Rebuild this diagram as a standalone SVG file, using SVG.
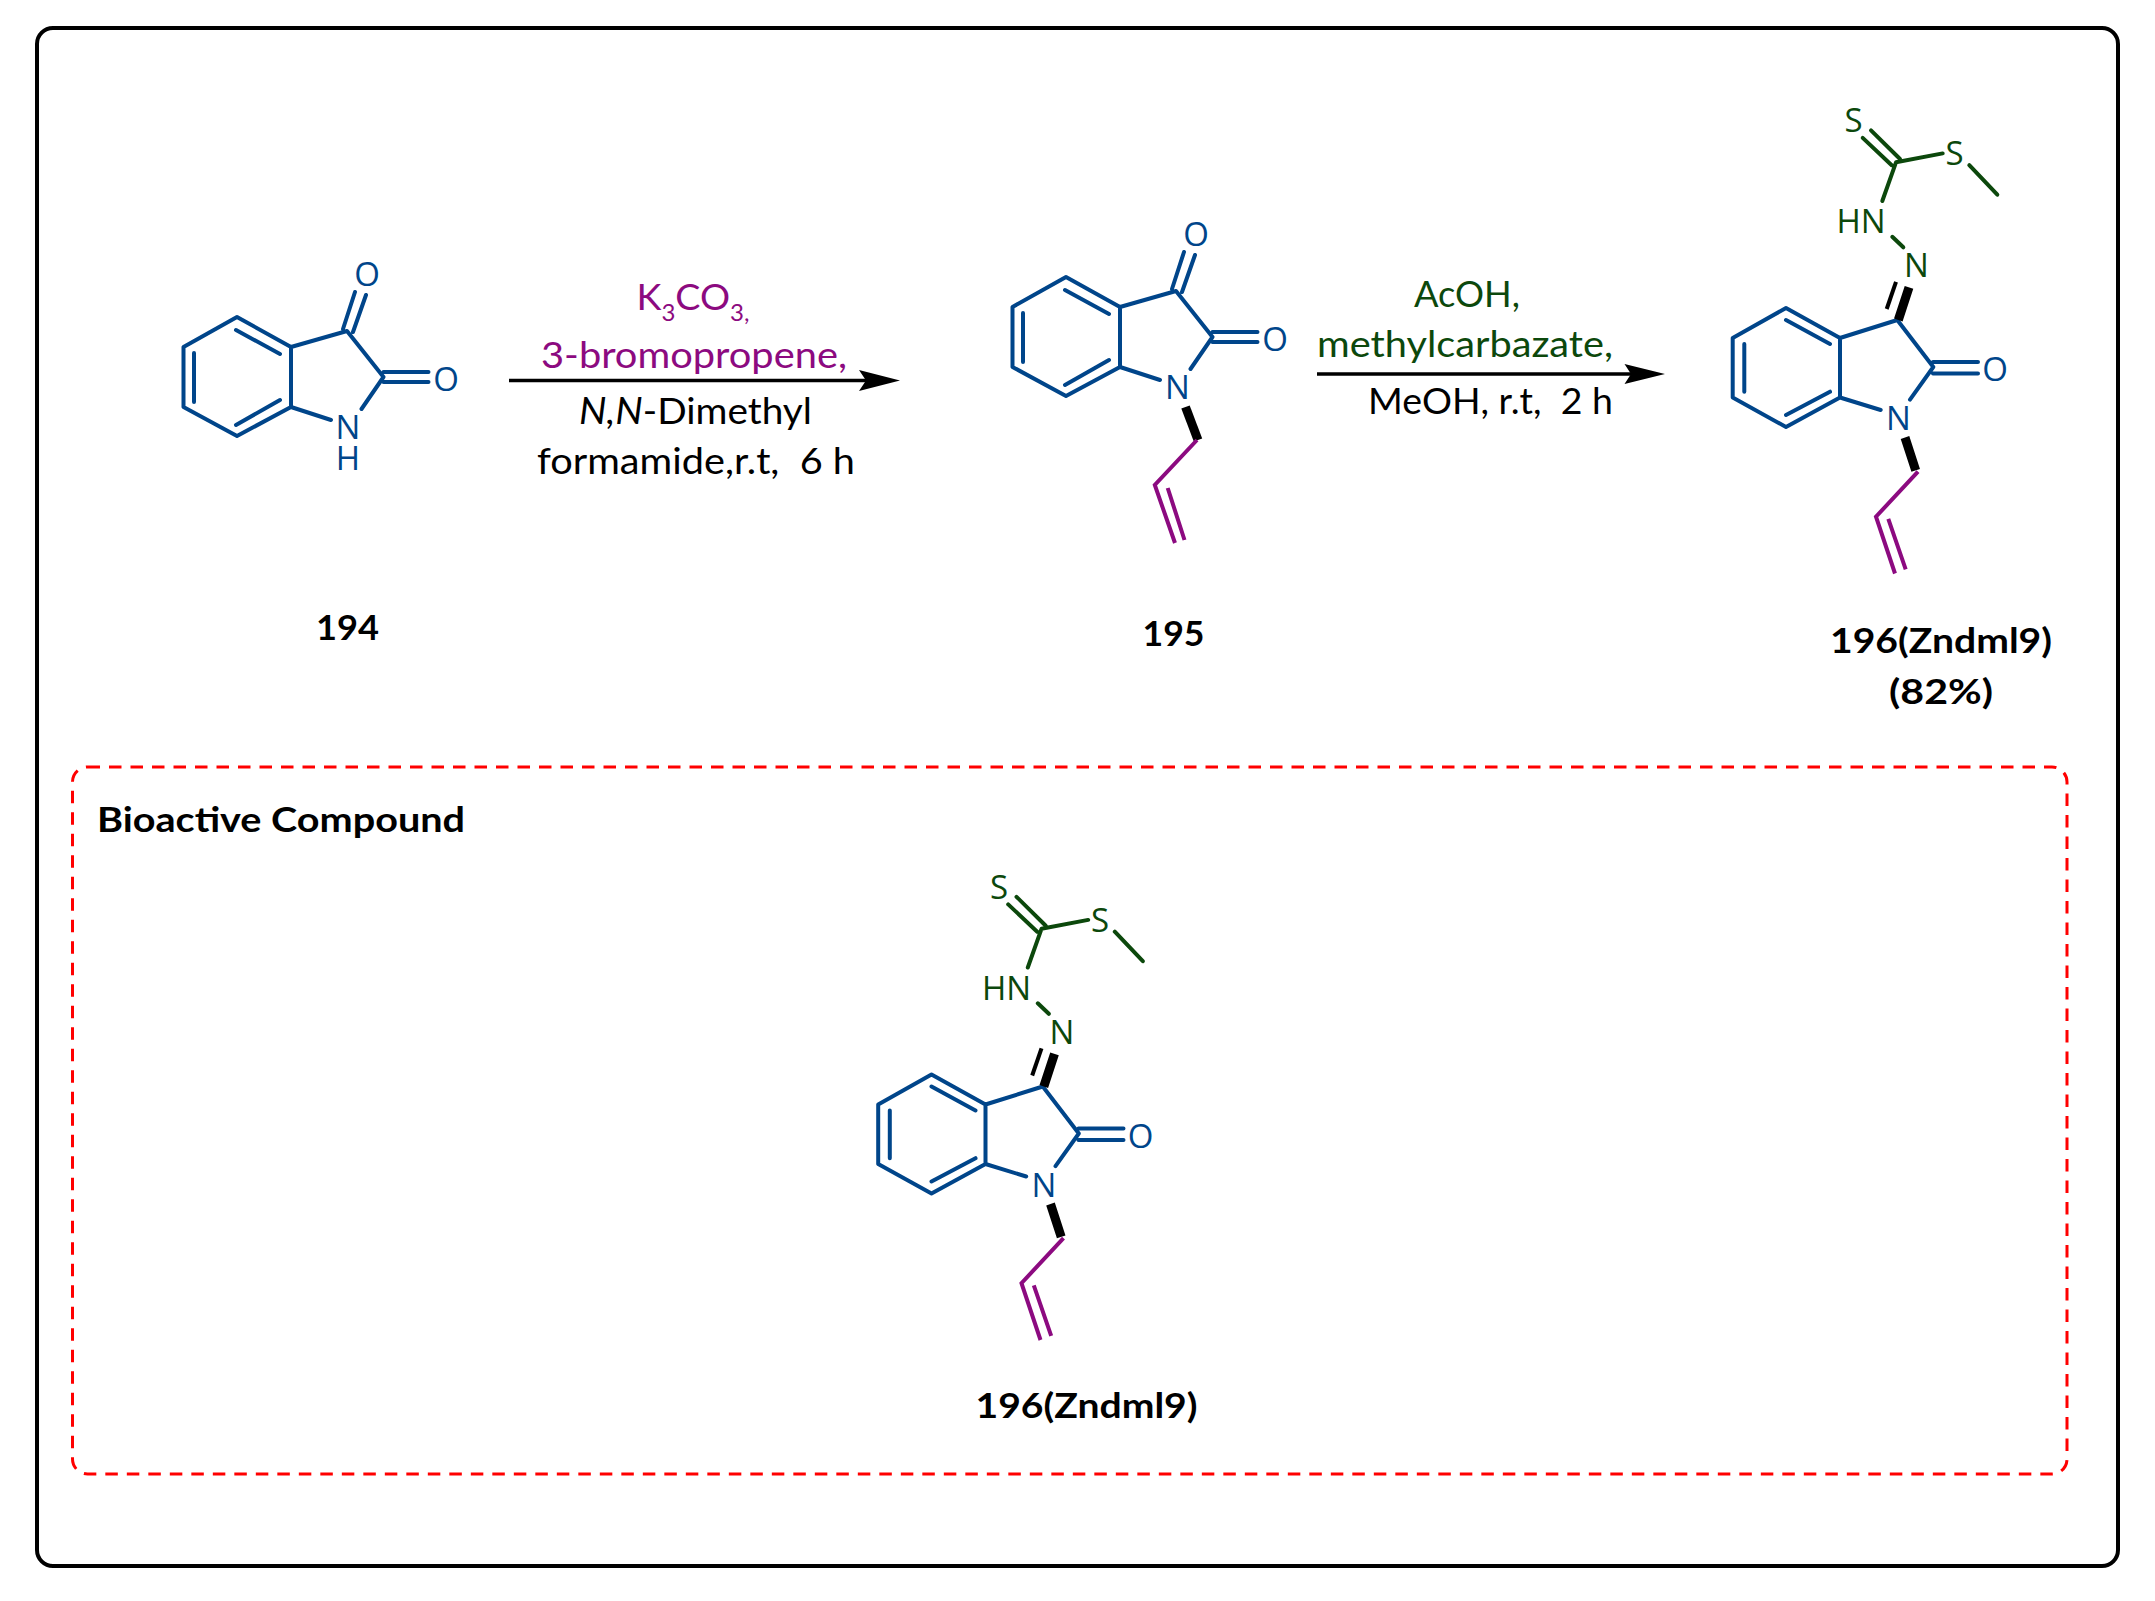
<svg xmlns="http://www.w3.org/2000/svg" width="2155" height="1601" viewBox="0 0 2155 1601">
<style>
.b{fill:none;stroke:#00458a;stroke-width:4;stroke-linecap:round;stroke-linejoin:round}
.p{fill:none;stroke:#8c0a80;stroke-width:4;stroke-linecap:butt;stroke-linejoin:miter}
.g{fill:none;stroke:#0c480c;stroke-width:4;stroke-linecap:round;stroke-linejoin:round}
.w{fill:none;stroke:#000;stroke-width:9}
.k{fill:none;stroke:#000;stroke-width:4}
.at{font-family:"Open Sans",sans-serif;font-size:33px;text-anchor:middle}
.ab{fill:#00458a}.ag{fill:#0c480c}
.t{font-family:Lato,"Liberation Sans",sans-serif;font-size:36px;white-space:pre}
.l{font-family:Lato,"Liberation Sans",sans-serif;font-size:34px;font-weight:700;fill:#000}
.arrow{fill:none;stroke:#000;stroke-width:3.500}
.head{fill:#000;stroke:none}
</style>
<rect id="frame" x="37" y="28" width="2081" height="1538" rx="16" fill="#fff" stroke="#000" stroke-width="4"/>
<rect id="panel" x="72.500" y="767" width="1994.500" height="707" rx="15" fill="none" stroke="#f00" stroke-width="3" stroke-dasharray="12.500 9"/>
<g id="compound-194">
<path class="b" d="M237 317L183.500 347V407L237 436L291 407V347ZM236 330L280 354M194 353V402M236 425L280 400M291 347L347 331L383.500 377L361.500 409M291 407L331 420M343 329L355 292M353 332L366 295M383.500 372H428.500M383.500 382H428.500"/>
<text class="at ab" x="367" y="286">O</text>
<text class="at ab" x="446" y="391">O</text>
<text class="at ab" x="348" y="439">N<tspan x="348" dy="31">H</tspan></text>
<text class="l" x="316" y="640" textLength="63" lengthAdjust="spacingAndGlyphs">194</text>
</g>
<g id="compound-195">
<path class="b" d="M1066 277L1012.500 307V367L1066 396L1120 367V307ZM1065 290L1109 314M1023 313V362M1065 385L1109 360M1120 307L1176 291L1212.500 337L1190.500 369M1120 367L1160 380M1172 289L1184 252M1182 292L1195 255M1212.500 332H1257.500M1212.500 342H1257.500"/>
<path class="w" d="M1185.500 407L1198 440"/>
<path class="p" d="M1197 440L1154.800 485L1175 543M1167.700 488L1184.500 540"/>
<text class="at ab" x="1196" y="246">O</text>
<text class="at ab" x="1275" y="351">O</text>
<text class="at ab" x="1177.500" y="399">N</text>
<text class="l" x="1142.500" y="646" textLength="62" lengthAdjust="spacingAndGlyphs">195</text>
</g>
<g id="compound-196">
<path class="b" d="M1786 308L1732.700 338V397.500L1786 427L1840 397.500V338ZM1786 320L1830 344M1744.300 344V391.700M1786 415L1830 391.700M1840 338L1897.300 320L1933.300 367L1910 399.600M1840 397.500L1880.700 410M1933 362H1978M1933 373.500H1978"/>
<path class="w" d="M1909 287.300L1898.300 320M1905 437.500L1915.700 470.400"/>
<path class="k" d="M1896 281.800L1886.700 309"/>
<path class="p" d="M1918 471.600L1876 516.700L1895 573.500M1888.300 518.800L1905.700 569.300"/>
<path class="g" d="M1892.300 236.800L1903.300 247.300M1882.300 201L1896 162.300L1942.700 153.400M1969.300 165.200L1997.300 194.700M1891.700 165.200L1862.700 137.900M1900 159L1871 130.300"/>
<text class="at ab" x="1995" y="381">O</text>
<text class="at ab" x="1898.500" y="430">N</text>
<text class="at ag" x="1916.500" y="277">N</text>
<text class="at ag" x="1861" y="233">HN</text>
<text class="at ag" x="1954.500" y="165">S</text>
<text class="at ag" x="1853.500" y="132">S</text>
<text class="l" x="1830" y="652.500" textLength="222" lengthAdjust="spacingAndGlyphs">196(Zndml9)</text>
<text class="l" x="1889" y="703.500" textLength="104" lengthAdjust="spacingAndGlyphs">(82%)</text>
</g>
<g id="compound-196-bioactive" transform="translate(-854.500 766.500)">
<path class="b" d="M1786 308L1732.700 338V397.500L1786 427L1840 397.500V338ZM1786 320L1830 344M1744.300 344V391.700M1786 415L1830 391.700M1840 338L1897.300 320L1933.300 367L1910 399.600M1840 397.500L1880.700 410M1933 362H1978M1933 373.500H1978"/>
<path class="w" d="M1909 287.300L1898.300 320M1905 437.500L1915.700 470.400"/>
<path class="k" d="M1896 281.800L1886.700 309"/>
<path class="p" d="M1918 471.600L1876 516.700L1895 573.500M1888.300 518.800L1905.700 569.300"/>
<path class="g" d="M1892.300 236.800L1903.300 247.300M1882.300 201L1896 162.300L1942.700 153.400M1969.300 165.200L1997.300 194.700M1891.700 165.200L1862.700 137.900M1900 159L1871 130.300"/>
<text class="at ab" x="1995" y="381">O</text>
<text class="at ab" x="1898.500" y="430">N</text>
<text class="at ag" x="1916.500" y="277">N</text>
<text class="at ag" x="1861" y="233">HN</text>
<text class="at ag" x="1954.500" y="165">S</text>
<text class="at ag" x="1853.500" y="132">S</text>
</g>
<text class="l" x="975.500" y="1418" textLength="222" lengthAdjust="spacingAndGlyphs">196(Zndml9)</text>
<text class="l" x="97" y="832" textLength="368" lengthAdjust="spacingAndGlyphs">Bioactive Compound</text>
<g id="connectors">
<path class="arrow" d="M509 380.500H870"/>
<path class="head" d="M900 380.500L859 370L866 380.500L859 391Z"/>
<path class="arrow" d="M1317 374H1635"/>
<path class="head" d="M1665 374L1624.500 364L1631 374L1624.500 384Z"/>
</g>
<g id="reagents">
<text class="t" x="636.500" y="310" fill="#8c0a80" textLength="113" lengthAdjust="spacingAndGlyphs">K<tspan font-size="23" dy="11">3</tspan><tspan dy="-11">CO</tspan><tspan font-size="23" dy="11">3</tspan><tspan font-size="23">,</tspan></text>
<text class="t" x="541" y="368" fill="#8c0a80" textLength="306" lengthAdjust="spacingAndGlyphs">3-bromopropene,</text>
<text class="t" x="579" y="424" fill="#000" textLength="233" lengthAdjust="spacingAndGlyphs"><tspan font-style="italic">N,N</tspan>-Dimethyl</text>
<text class="t" x="537" y="474" fill="#000" textLength="318" lengthAdjust="spacingAndGlyphs">formamide,r.t,  6 h</text>
<text class="t" x="1414" y="307" fill="#0c480c" textLength="106" lengthAdjust="spacingAndGlyphs">AcOH,</text>
<text class="t" x="1317" y="357" fill="#0c480c" textLength="296" lengthAdjust="spacingAndGlyphs">methylcarbazate,</text>
<text class="t" x="1368" y="414" fill="#000" textLength="245" lengthAdjust="spacingAndGlyphs">MeOH, r.t,  2 h</text>
</g>
</svg>
